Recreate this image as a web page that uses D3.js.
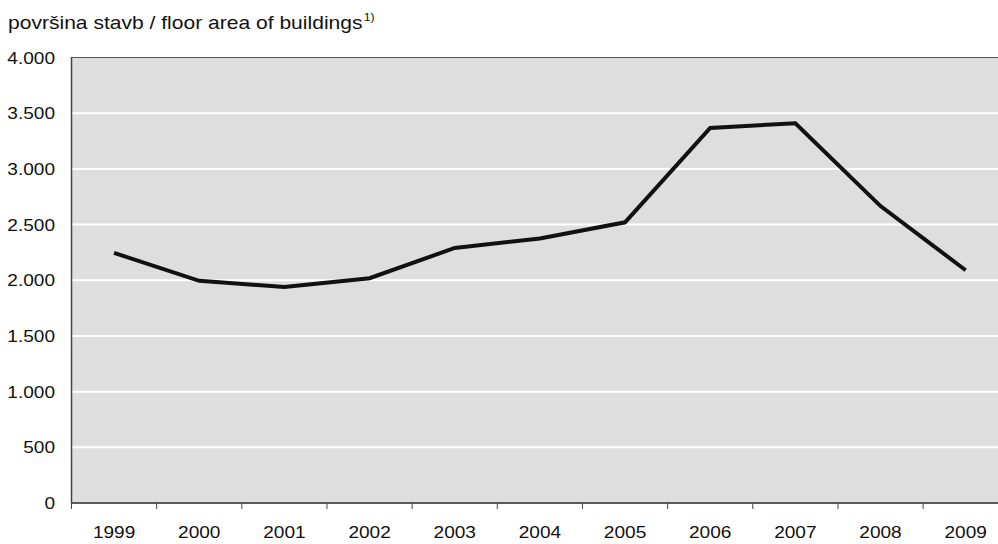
<!DOCTYPE html>
<html><head><meta charset="utf-8">
<script src="https://cdn.jsdelivr.net/npm/d3@7"></script>
<style>body{margin:0;background:#fff}svg{display:block}text{font-family:"Liberation Sans",Arial,sans-serif;fill:#111}</style>
</head><body>
<script>
const years = ["1999","2000","2001","2002","2003","2004","2005","2006","2007","2008","2009"];
const values = [2245, 1995, 1940, 2018, 2290, 2375, 2520, 3367, 3410, 2666, 2090];
const yTicks = [0, 500, 1000, 1500, 2000, 2500, 3000, 3500, 4000];
const titleText = "površina stavb / floor area of buildings";

const W = 998, H = 544;
const plotLeft = 71.5, plotTop = 57.5, plotBottom = 503, bandW = 85.16;
const sx = 1.17;
const svg = d3.select("body").append("svg").attr("width", W).attr("height", H);

const x = d3.scaleBand().domain(years).range([plotLeft, plotLeft + bandW * years.length]);
const y = d3.scaleLinear().domain([0, 4000]).range([plotBottom, plotTop]);
const fmt = v => d3.format(",")(v).replace(/,/g, ".");

svg.append("rect").attr("x", plotLeft).attr("y", plotTop).attr("width", x.range()[1] - plotLeft).attr("height", plotBottom - plotTop)
  .attr("fill", "#dedede").attr("stroke", "#555").attr("stroke-width", 1);

svg.append("g").selectAll("line").data(yTicks.filter(d => d > 0 && d < 4000)).join("line")
  .attr("x1", plotLeft + 0.5).attr("x2", x.range()[1]).attr("y1", d => y(d)).attr("y2", d => y(d))
  .attr("stroke", "#fff").attr("stroke-width", 2);

// y axis labels
svg.append("g").selectAll("text").data(yTicks).join("text")
  .attr("transform", d => `translate(55,${y(d) + 6}) scale(${sx},1)`)
  .attr("text-anchor", "end").attr("font-size", 16.3).text(fmt);

// bottom axis
const xb = svg.append("g").attr("transform", `translate(0,${plotBottom})`);
xb.append("line").attr("x1", plotLeft).attr("x2", x.range()[1]).attr("stroke", "#444").attr("stroke-width", 1.5);
const bounds = years.map(d => x(d)).concat([x.range()[1]]);
xb.selectAll("line.t").data(bounds).join("line").attr("class", "t")
  .attr("x1", d => d).attr("x2", d => d).attr("y1", 0).attr("y2", 6).attr("stroke", "#444").attr("stroke-width", 1);
xb.selectAll("text").data(years).join("text")
  .attr("transform", d => `translate(${x(d) + x.bandwidth() / 2},35) scale(${sx},1)`)
  .attr("text-anchor", "middle").attr("font-size", 16.3).text(d => d);

// left axis line
svg.append("line").attr("x1", plotLeft).attr("x2", plotLeft).attr("y1", plotTop).attr("y2", plotBottom).attr("stroke", "#444").attr("stroke-width", 1.5);

// line
const line = d3.line().x((d, i) => x(years[i]) + x.bandwidth() / 2).y(d => y(d));
svg.append("path").datum(values).attr("d", line).attr("fill", "none").attr("stroke", "#111")
  .attr("stroke-width", 4).attr("stroke-linejoin", "miter");

// title
const t = svg.append("text").attr("transform", `translate(8,29) scale(${sx},1)`).attr("font-size", 18).text(titleText);
t.append("tspan").attr("font-size", 10.5).attr("dy", -8).attr("dx", 1).text("1)");
</script>
</body></html>
